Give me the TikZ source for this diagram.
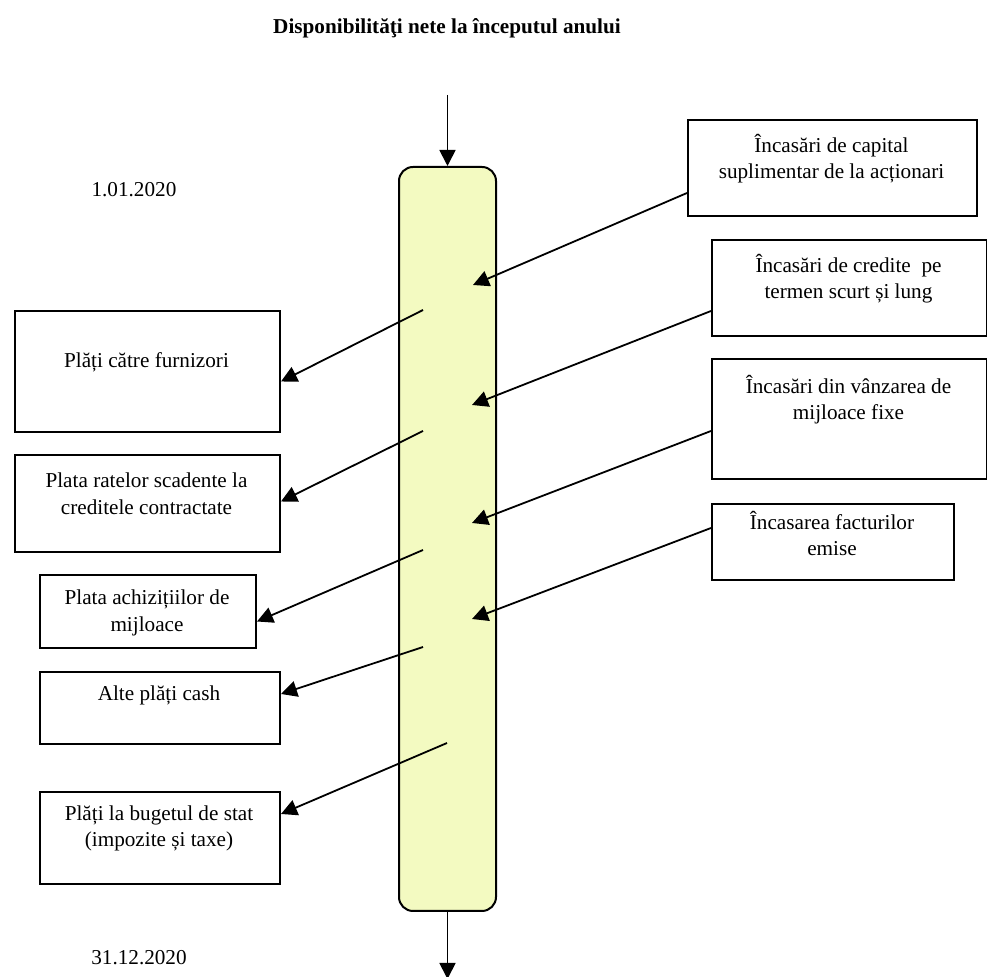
\documentclass[tikz,border=0pt]{standalone}
\usepackage{fontspec}
\setmainfont{Liberation Serif}
\usetikzlibrary{arrows.meta,positioning}
\definecolor{barfill}{RGB}{243,250,193}

\begin{document}
\begin{tikzpicture}[x=0.5pt,y=-0.5pt,->,>={Triangle[length=8pt,width=8pt]},line width=0.9pt,
    box/.style={draw,rectangle,line width=1pt,inner sep=0pt,anchor=north west},
    txt/.style={align=center,inner sep=0pt,font=\fontsize{10.6}{13.3}\selectfont},
    bar/.style={draw,fill=barfill,rounded corners=7pt,line width=1pt,minimum width=48.5pt,minimum height=372pt,inner sep=0pt}]
                \useasboundingbox (0,0) rectangle (987,977);

                \node[txt,font=\bfseries\fontsize{10.6}{13.3}\selectfont] (title) at (447,28) {Disponibilităţi nete la începutul anului};
                \node[txt] (d1) at (134,190) {1.01.2020};
                \node[txt] (d2) at (139,958) {31.12.2020};

                \node[bar] (cash) at (447.5,539) {};
                \coordinate (start) at (447.5,95);
                \coordinate (end) at (447.5,979);

                \node[box,minimum width=144.5pt,minimum height=48pt] (cap) at (687,119) {};
                \node[box,minimum width=137.5pt,minimum height=48pt] (cred) at (711,239) {};
                \node[box,minimum width=137.5pt,minimum height=60pt] (vanz) at (711,358) {};
                \node[box,minimum width=121pt,minimum height=38pt] (fact) at (711,503) {};
                \node[txt] at (831.5,158.5) {Încasări de capital\\suplimentar de la acționari};
                \node[txt] at (848.5,278.5) {Încasări de credite\ \ pe\\termen scurt și lung};
                \node[txt] at (848.5,399.5) {Încasări din vânzarea de\\mijloace fixe};
                \node[txt] at (832,533.5) {Încasarea facturilor\\emise};

                \node[box,minimum width=132.5pt,minimum height=60.5pt] (furn) at (14,310) {};
                \node[box,minimum width=132.5pt,minimum height=48.5pt] (rate) at (14,454) {};
                \node[box,minimum width=108pt,minimum height=36.5pt] (achiz) at (39,574) {};
                \node[box,minimum width=120pt,minimum height=36pt] (alte) at (39,671) {};
                \node[box,minimum width=120pt,minimum height=46pt] (buget) at (39,791) {};
                \node[txt] at (146.5,362) {Plăți către furnizori};
                \node[txt] at (146.5,493.5) {Plata ratelor scadente la\\creditele contractate};
                \node[txt] at (147,613) {Plata achizițiilor de\\mijloace};
                \node[txt] at (159,695) {Alte plăți cash};
                \node[txt] at (159,828.5) {Plăți la bugetul de stat\\(impozite și taxe)};

                \coordinate (capIn) at (473,285);
                \coordinate (credIn) at (472,405);
                \coordinate (vanzIn) at (472,523);
                \coordinate (factIn) at (472,619);
                \coordinate (furnOut) at (423,310);
                \coordinate (rateOut) at (423,431);
                \coordinate (achizOut) at (423,550);
                \coordinate (alteOut) at (423,647);
                \coordinate (bugetOut) at (447,743);

                \draw (start) -- (cash.north);
                \draw (cash.south) -- (end);
                \draw ([yshift=-12.5pt]cap.west) -- (capIn);
                \draw ([yshift=-11.5pt]cred.west) -- (credIn);
                \draw ([yshift=-6pt]vanz.west) -- (vanzIn);
                \draw ([yshift=7pt]fact.west) -- (factIn);
                \draw (furnOut) -- ([yshift=-5pt]furn.east);
                \draw (rateOut) -- ([yshift=1pt]rate.east);
                \draw (achizOut) -- ([yshift=-5pt]achiz.east);
                \draw (alteOut) -- ([yshift=7pt]alte.east);
                \draw (bugetOut) -- ([yshift=12pt]buget.east);
\end{tikzpicture}
\end{document}
